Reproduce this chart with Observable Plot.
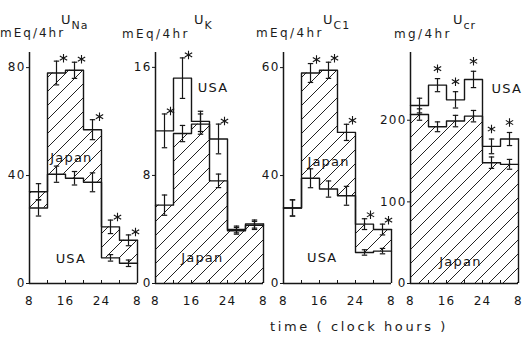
<!DOCTYPE html>
<html>
<head>
<meta charset="utf-8">
<script src="https://cdn.jsdelivr.net/npm/d3@7"></script>
<script src="https://cdn.jsdelivr.net/npm/@observablehq/plot@0.6"></script>
<style>
  html, body { margin: 0; padding: 0; background: #fff; }
  #wrap { position: relative; width: 523px; height: 337px; overflow: hidden; background: #fff; }
  #wrap svg { position: absolute; top: 0; }
  .t { position: absolute; font-family: "DejaVu Sans", sans-serif; color: #1c1c1c; white-space: nowrap; }
  .title { font-size: 13px; line-height: 13px; letter-spacing: 1px; }
  .title sub { font-size: 11px; vertical-align: -5px; letter-spacing: 1px; }
  .unit { font-size: 12px; line-height: 12px; letter-spacing: 2.4px; }
  .xt { font-size: 13px; line-height: 13px; letter-spacing: 2.6px; }
</style>
</head>
<body>
<div id="wrap">
  <div class="t title" style="left:61px;top:13px">U<sub>Na</sub></div>
  <div class="t title" style="left:194px;top:13px">U<sub>K</sub></div>
  <div class="t title" style="left:323px;top:13px">U<sub>C1</sub></div>
  <div class="t title" style="left:453px;top:13px">U<sub>cr</sub></div>
  <div class="t unit" style="left:0px;top:27px;letter-spacing:2px">mEq/4hr</div>
  <div class="t unit" style="left:122px;top:28px">mEq/4hr</div>
  <div class="t unit" style="left:256px;top:27px">mEq/4hr</div>
  <div class="t unit" style="left:394px;top:28px">mg/4hr</div>
  <div class="t xt" style="left:270px;top:320px">time ( clock hours )</div>
</div>
<script>
// ---- data ----
const hours = [8, 12, 16, 20, 24, 28];          // start of each 4-hr collection
const xTickValues = [8, 16, 24, 32];
const xTickLabels = ["8", "16", "24", "8"];

// U_Na (mEq/4hr)
const naJapan    = [34, 78, 79, 57, 21, 16];
const naJapanErr = [3, 4.4, 3, 3.7, 2.5, 2];
const naUSA      = [28, 40.5, 39, 37.5, 9.5, 7.5];
const naUSAErr   = [3, 3, 2.5, 3.5, 1.2, 1.2];
const naSig      = [0, 1, 1, 1, 1, 1];
const naTicks = [0, 40, 80];
const naTickLabels = ["0", "40", "80"];

// U_K (mEq/4hr)
const kJapan    = [5.8, 11.1, 11.8, 7.6, 3.9, 4.3];
const kJapanErr = [0.75, 0.6, 0.75, 0.5, 0.25, 0.3];
const kUSA      = [11.3, 15.2, 12.0, 10.7, 4.0, 4.4];
const kUSAErr   = [1.25, 1.5, 0.75, 1.1, 0.25, 0.3];
const kSig      = [1, 1, 0, 1, 0, 0];
const kTicks = [0, 8, 16];
const kTickLabels = ["0", "8", "16"];

// U_Cl (mEq/4hr)
const clJapan    = [28, 78, 79, 56, 22, 20];
const clJapanErr = [3, 3.5, 3, 3, 2, 2];
const clUSA      = [28, 39, 35, 32.5, 11.5, 12];
const clUSAErr   = [3, 3.5, 3, 3.5, 1, 1];
const clSig      = [0, 1, 1, 1, 1, 1];
const clTicks = [0, 40, 80];
const clTickLabels = ["0", "40", "60"];

// U_cr (mg/4hr)
const crJapan    = [207, 192, 199, 205, 148, 146];
const crJapanErr = [7, 6, 7, 7, 7, 6];
const crUSA      = [218, 243, 225, 250, 168, 177];
const crUSAErr   = [9, 8, 10, 10, 9, 8];
const crSig      = [0, 1, 1, 1, 1, 1];
const crTicks = [0, 100, 200];
const crTickLabels = ["0", "100", "200"];

// ---- layout / style per panel ----
const panels = [
  {axisX: 29,  ymax: 85.6, japan: naJapan, je: naJapanErr, usa: naUSA, ue: naUSAErr, sig: naSig,
   ticks: naTicks, tickLabels: naTickLabels, hatchFromUSA: true, star: [7, -3],
   labels: [{t: "Japan", x: 17.3, y: 46.5}, {t: "USA", x: 17.2, y: 9.3}]},
  {axisX: 155, ymax: 17.1, japan: kJapan, je: kJapanErr, usa: kUSA, ue: kUSAErr, sig: kSig,
   ticks: kTicks, tickLabels: kTickLabels, hatchFromUSA: false, star: [6, -3],
   labels: [{t: "USA", x: 20.8, y: 14.5}, {t: "Japan", x: 18.4, y: 1.9}]},
  {axisX: 283, ymax: 85.6, japan: clJapan, je: clJapanErr, usa: clUSA, ue: clUSAErr, sig: clSig,
   ticks: clTicks, tickLabels: clTickLabels, hatchFromUSA: true, star: [6, -4],
   labels: [{t: "Japan", x: 18.0, y: 45}, {t: "USA", x: 16.6, y: 9.6}]},
  {axisX: 410, ymax: 283, japan: crJapan, je: crJapanErr, usa: crUSA, ue: crUSAErr, sig: crSig,
   ticks: crTicks, tickLabels: crTickLabels, hatchFromUSA: false, star: [0, -10],
   labels: [{t: "USA", x: 29.4, y: 239}, {t: "Japan", x: 19.1, y: 26}]}
];

const INK = "#161616";
const ML = 30, FRAME = 108, MR = 14;
const wrap = document.getElementById("wrap");

panels.forEach((p, pi) => {
  const rows = hours.map((h, i) => ({h, mid: h + 2, japan: p.japan[i], je: p.je[i], usa: p.usa[i], ue: p.ue[i], sig: p.sig[i]}));
  const stepOf = (arr) => [...hours, 32].map((h, i) => ({h, v: arr[Math.min(i, arr.length - 1)]}));
  const hatch = rows.map(r => ({x1: r.h, x2: r.h + 4, y1: p.hatchFromUSA ? Math.min(r.usa, r.japan) : 0, y2: r.japan}));
  const bars = rows.flatMap(r => [{mid: r.mid, v: r.japan, e: r.je}, {mid: r.mid, v: r.usa, e: r.ue}]);
  const stars = rows.filter(r => r.sig).map(r => ({mid: r.mid, top: Math.max(r.japan + r.je, r.usa + r.ue)}));
  const last = rows[rows.length - 1];
  const tickMap = new Map(p.ticks.map((t, i) => [t, p.tickLabels[i]]));
  const xMap = new Map(xTickValues.map((t, i) => [t, xTickLabels[i]]));
  const tickLen = p.ymax * 3 / 231;
  const capW = 0.6;
  const pid = "hatch" + pi;

  const svg = Plot.plot({
    width: ML + FRAME + MR,
    height: 337,
    marginLeft: ML, marginRight: MR, marginTop: 52, marginBottom: 54,
    style: {background: "transparent", overflow: "visible", fontFamily: "DejaVu Sans, sans-serif", fontSize: "12px", color: INK, letterSpacing: "1.2px"},
    x: {domain: [8, 32], ticks: xTickValues, tickSize: 0, tickPadding: 13, tickFormat: d => xMap.get(d), label: null},
    y: {domain: [0, p.ymax], ticks: p.ticks, tickSize: 3, tickPadding: 1, tickFormat: d => tickMap.get(d), label: null},
    marks: [
      Plot.rect(hatch, {x1: "x1", x2: "x2", y1: "y1", y2: "y2", fill: `url(#${pid})`}),
      Plot.line(stepOf(p.usa), {x: "h", y: "v", curve: "step-after", stroke: INK, strokeWidth: 1.4}),
      Plot.line(stepOf(p.japan), {x: "h", y: "v", curve: "step-after", stroke: INK, strokeWidth: 1.4}),
      Plot.ruleX([32], {y1: 0, y2: Math.max(last.japan, last.usa), stroke: INK, strokeWidth: 1.4}),
      Plot.ruleX([8, 12, 16, 20, 24, 28, 32], {y1: 0, y2: tickLen, stroke: INK, strokeWidth: 1}),
      Plot.ruleX(bars, {x: "mid", y1: d => d.v - d.e, y2: d => d.v + d.e, stroke: INK, strokeWidth: 1.2}),
      Plot.link(bars, {x1: d => d.mid - capW, x2: d => d.mid + capW, y1: d => d.v + d.e, y2: d => d.v + d.e, stroke: INK, strokeWidth: 1.2}),
      Plot.link(bars, {x1: d => d.mid - capW, x2: d => d.mid + capW, y1: d => d.v - d.e, y2: d => d.v - d.e, stroke: INK, strokeWidth: 1.2}),
      Plot.dot(stars, {x: "mid", y: "top", symbol: "asterisk", r: 4, stroke: INK, strokeWidth: 1.1, dx: p.star[0], dy: p.star[1]}),
      Plot.text(p.labels, {x: "x", y: "y", text: "t", fontSize: 13, fill: INK}),
      Plot.ruleX([8], {stroke: INK, strokeWidth: 1.5}),
      Plot.ruleY([0], {stroke: INK, strokeWidth: 1.5})
    ]
  });

  // hatch pattern
  const ns = "http://www.w3.org/2000/svg";
  const defs = document.createElementNS(ns, "defs");
  const pat = document.createElementNS(ns, "pattern");
  pat.setAttribute("id", pid);
  pat.setAttribute("patternUnits", "userSpaceOnUse");
  pat.setAttribute("width", "14");
  pat.setAttribute("height", "14");
  const path = document.createElementNS(ns, "path");
  path.setAttribute("d", "M-2,2 L2,-2 M0,14 L14,0 M12,16 L16,12");
  path.setAttribute("stroke", "#222");
  path.setAttribute("stroke-width", "1");
  pat.appendChild(path);
  defs.appendChild(pat);
  svg.insertBefore(defs, svg.firstChild);

  svg.style.left = (p.axisX - ML) + "px";
  wrap.appendChild(svg);
});
</script>
</body>
</html>
